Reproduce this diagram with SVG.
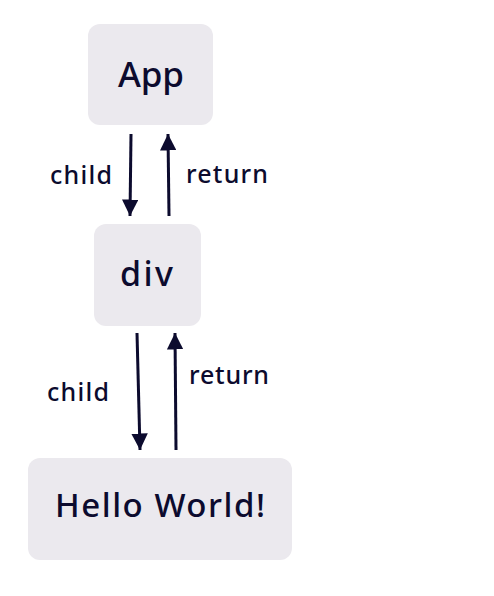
<svg xmlns="http://www.w3.org/2000/svg" width="494" height="596" viewBox="0 0 494 596">
<defs>
<style>
.box{fill:#ebe9ee}
.t{font-family:"Noto Sans","Open Sans",sans-serif;font-weight:500;fill:#0c0b2e;text-anchor:start}
.lbl{font-size:25px}
.c{stroke:#0c0b2e;stroke-width:3;fill:none}
</style>
<marker id="ah" viewBox="0 0 10 10" refX="10" refY="5" markerWidth="5.5" markerHeight="5.5" markerUnits="strokeWidth" orient="auto">
<path d="M0,0 L10,5 L0,10 Z" fill="#0c0b2e"/>
</marker>
</defs>
<rect width="494" height="596" fill="#ffffff"/>
<g id="app"><rect class="box" x="88" y="24" width="125" height="101" rx="12"/><text class="t" font-size="35" x="118" y="87" textLength="66" lengthAdjust="spacing">App</text></g>
<g id="div"><rect class="box" x="94" y="224" width="107" height="102" rx="12"/><text class="t" font-size="34" x="120" y="286" textLength="53" lengthAdjust="spacing">div</text></g>
<g id="hello"><rect class="box" x="28" y="458" width="264" height="102" rx="12"/><text class="t" font-size="33" x="55" y="517" textLength="210" lengthAdjust="spacing">Hello World!</text></g>
<g id="connectors">
<line class="c" x1="131" y1="134" x2="130" y2="216" marker-end="url(#ah)"/>
<line class="c" x1="169" y1="216" x2="168" y2="134" marker-end="url(#ah)"/>
<line class="c" x1="137" y1="333" x2="140" y2="450" marker-end="url(#ah)"/>
<line class="c" x1="176" y1="450" x2="175" y2="333" marker-end="url(#ah)"/>
<text class="t lbl" x="50" y="184" textLength="62" lengthAdjust="spacing">child</text>
<text class="t lbl" x="186" y="183" textLength="82" lengthAdjust="spacing">return</text>
<text class="t lbl" x="47" y="401" textLength="62" lengthAdjust="spacing">child</text>
<text class="t lbl" x="189" y="384" textLength="80" lengthAdjust="spacing">return</text>
</g>
</svg>
